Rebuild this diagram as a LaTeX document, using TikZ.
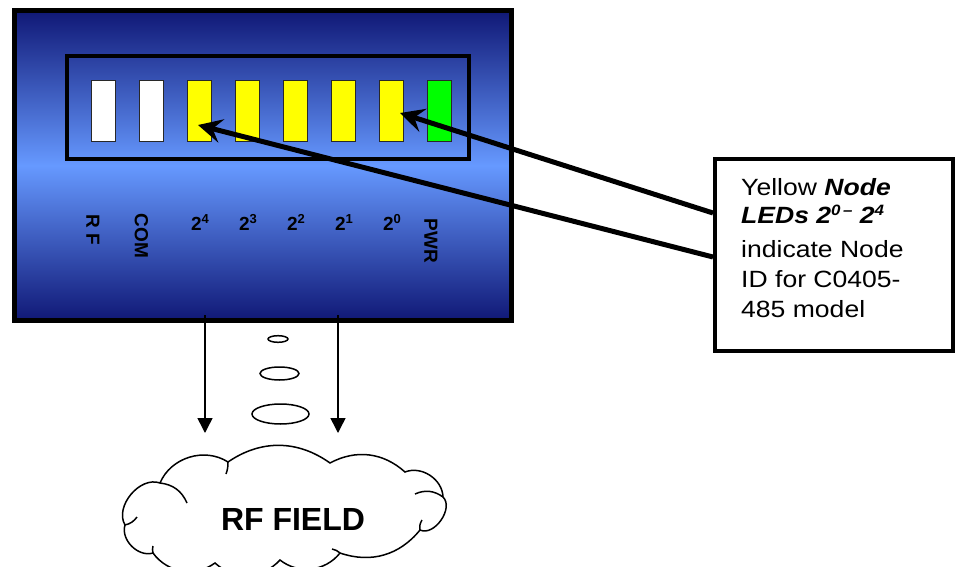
\documentclass[tikz,border=0pt]{standalone}
\usepackage{fontspec}
\setmainfont{Liberation Sans}
\newfontfamily\calloutfont[FakeStretch=1.13]{Liberation Sans}
\usetikzlibrary{arrows.meta}

\definecolor{panelDark}{RGB}{16,24,118}
\definecolor{panelLight}{RGB}{102,153,255}
\definecolor{ledYellow}{RGB}{255,255,0}
\definecolor{ledGreen}{RGB}{0,255,0}
\definecolor{ledEdge}{RGB}{40,40,40}

% raised small digits used in the bit labels
\newcommand\bitexp[1]{\raisebox{7pt}{\fontsize{13}{13}\selectfont #1}}
\newcommand\calloutexp[1]{\raisebox{8pt}{\fontsize{15}{15}\selectfont #1}}

\begin{document}
\begin{tikzpicture}[x=1pt,y=1pt,
  panel/.style={draw=black, line width=5pt, minimum width=497pt, minimum height=310pt,
    top color=panelDark, bottom color=panelDark, middle color=panelLight, inner sep=0pt},
  ledframe/.style={draw=black, line width=4pt, minimum width=402pt, minimum height=103.5pt, inner sep=0pt},
  led/.style={draw=ledEdge, line width=1.5pt, minimum width=24pt, minimum height=61pt, inner sep=0pt},
  ledlbl/.style={font=\bfseries\fontsize{19}{19}\selectfont, inner sep=0pt},
  callout/.style={draw=black, line width=4pt, fill=white, minimum width=238pt, minimum height=191pt, inner sep=0pt},
  callouttext/.style={font=\calloutfont\fontsize{23.5}{28}\selectfont, anchor=base west, inner sep=0pt},
  pointer/.style={line width=5pt, -{Stealth[length=24pt,width=24pt,inset=9pt]}},
  fall/.style={line width=1.5pt, -{Triangle[length=15pt,width=15pt]}},
  thin line/.style={line width=1.5pt}
]
\useasboundingbox (0,0) rectangle (956,-567);
\clip (0,0) rectangle (956,-567);

% device panel with its LED window
\node[panel] (panel) at (262.5,-165.5) {};
\node[ledframe] (frame) at (267.5,-107.75) {};

\foreach \i/\c in {1/white,2/white,3/ledYellow,4/ledYellow,5/ledYellow,6/ledYellow,7/ledYellow,8/ledGreen}
  \node[led, fill=\c] (led\i) at ({103.5+48*(\i-1)},-111) {};

% LED captions
\node[ledlbl, rotate=-90] (lblrf) at (93,-230) {R F};
\node[ledlbl, rotate=-90] (lblcom) at (141.5,-236) {COM};
\node[ledlbl, anchor=base] (lbl4) at (200,-230) {2\bitexp{4}};
\node[ledlbl, anchor=base] (lbl3) at (248,-230) {2\bitexp{3}};
\node[ledlbl, anchor=base] (lbl2) at (296,-230) {2\bitexp{2}};
\node[ledlbl, anchor=base] (lbl1) at (344,-230) {2\bitexp{1}};
\node[ledlbl, anchor=base] (lbl0) at (392,-230) {2\bitexp{0}};
\node[ledlbl, rotate=-90] (lblpwr) at (431,-241) {PWR};

% callout box
\node[callout] (callout) at (834,-255) {};
\node[callouttext] (t1) at (741,-195) {Yellow \textbf{\textit{Node}}};
\node[callouttext] (t2) at (741,-223) {\textbf{\textit{LEDs 2\calloutexp{0\,–} 2\calloutexp{4}}}};
\node[callouttext] (t3) at (741,-257) {indicate Node};
\node[callouttext] (t4) at (741,-287) {ID for C0405-};
\node[callouttext] (t5) at (741,-317) {485 model};

\draw[pointer] ([yshift=42pt]callout.west) -- ([xshift=8.5pt,yshift=-2pt]led7.center);
\draw[pointer] ([yshift=-2pt]callout.west) -- ([xshift=-1.5pt,yshift=-14pt]led3.center);

% radiation below the panel
\coordinate (fallL) at (205,-433);
\coordinate (fallR) at (338,-433);
\draw[fall] ([xshift=-57.5pt,yshift=8pt]panel.south) -- (fallL);
\draw[fall] ([xshift=75.5pt,yshift=8pt]panel.south) -- (fallR);

\draw[thin line] (278,-339) ellipse [x radius=10, y radius=3.3];
\draw[thin line] (279.5,-373.5) ellipse [x radius=19.5, y radius=6.5];
\draw[thin line] (280.5,-414) ellipse [x radius=28.5, y radius=10];

% RF field cloud
\draw[thin line, fill=white]
  (125,-525) to[bend left=70] (160,-483) to[bend left=50] (228,-462)
  to[bend left=35] (330,-463) to[bend left=35] (405,-472)
  to[bend left=55] (443,-497) to[bend left=80] (420,-530)
  to[bend left=35] (340,-553) to[bend left=45] (280,-560)
  to[bend left=45] (215,-563) to[bend left=45] (153,-553)
  to[bend left=62] cycle;
\draw[thin line] (160,-483) to[bend left=30] (187,-503);
\draw[thin line] (228,-462) to[bend left=10] (226,-474);
\draw[thin line] (443,-497) to[bend right=30] (415,-494);
\draw[thin line] (420,-530) to[bend left=20] (422,-520);
\draw[thin line] (125,-525) to[bend right=20] (137,-517);
\draw[thin line] (153,-553) to[bend left=15] (153,-546);
\draw[thin line] (340,-553) to[bend right=15] (332,-549);
\node[font=\bfseries\fontsize{32}{32}\selectfont, inner sep=0pt] (field) at (293,-519) {RF FIELD};
\end{tikzpicture}
\end{document}
